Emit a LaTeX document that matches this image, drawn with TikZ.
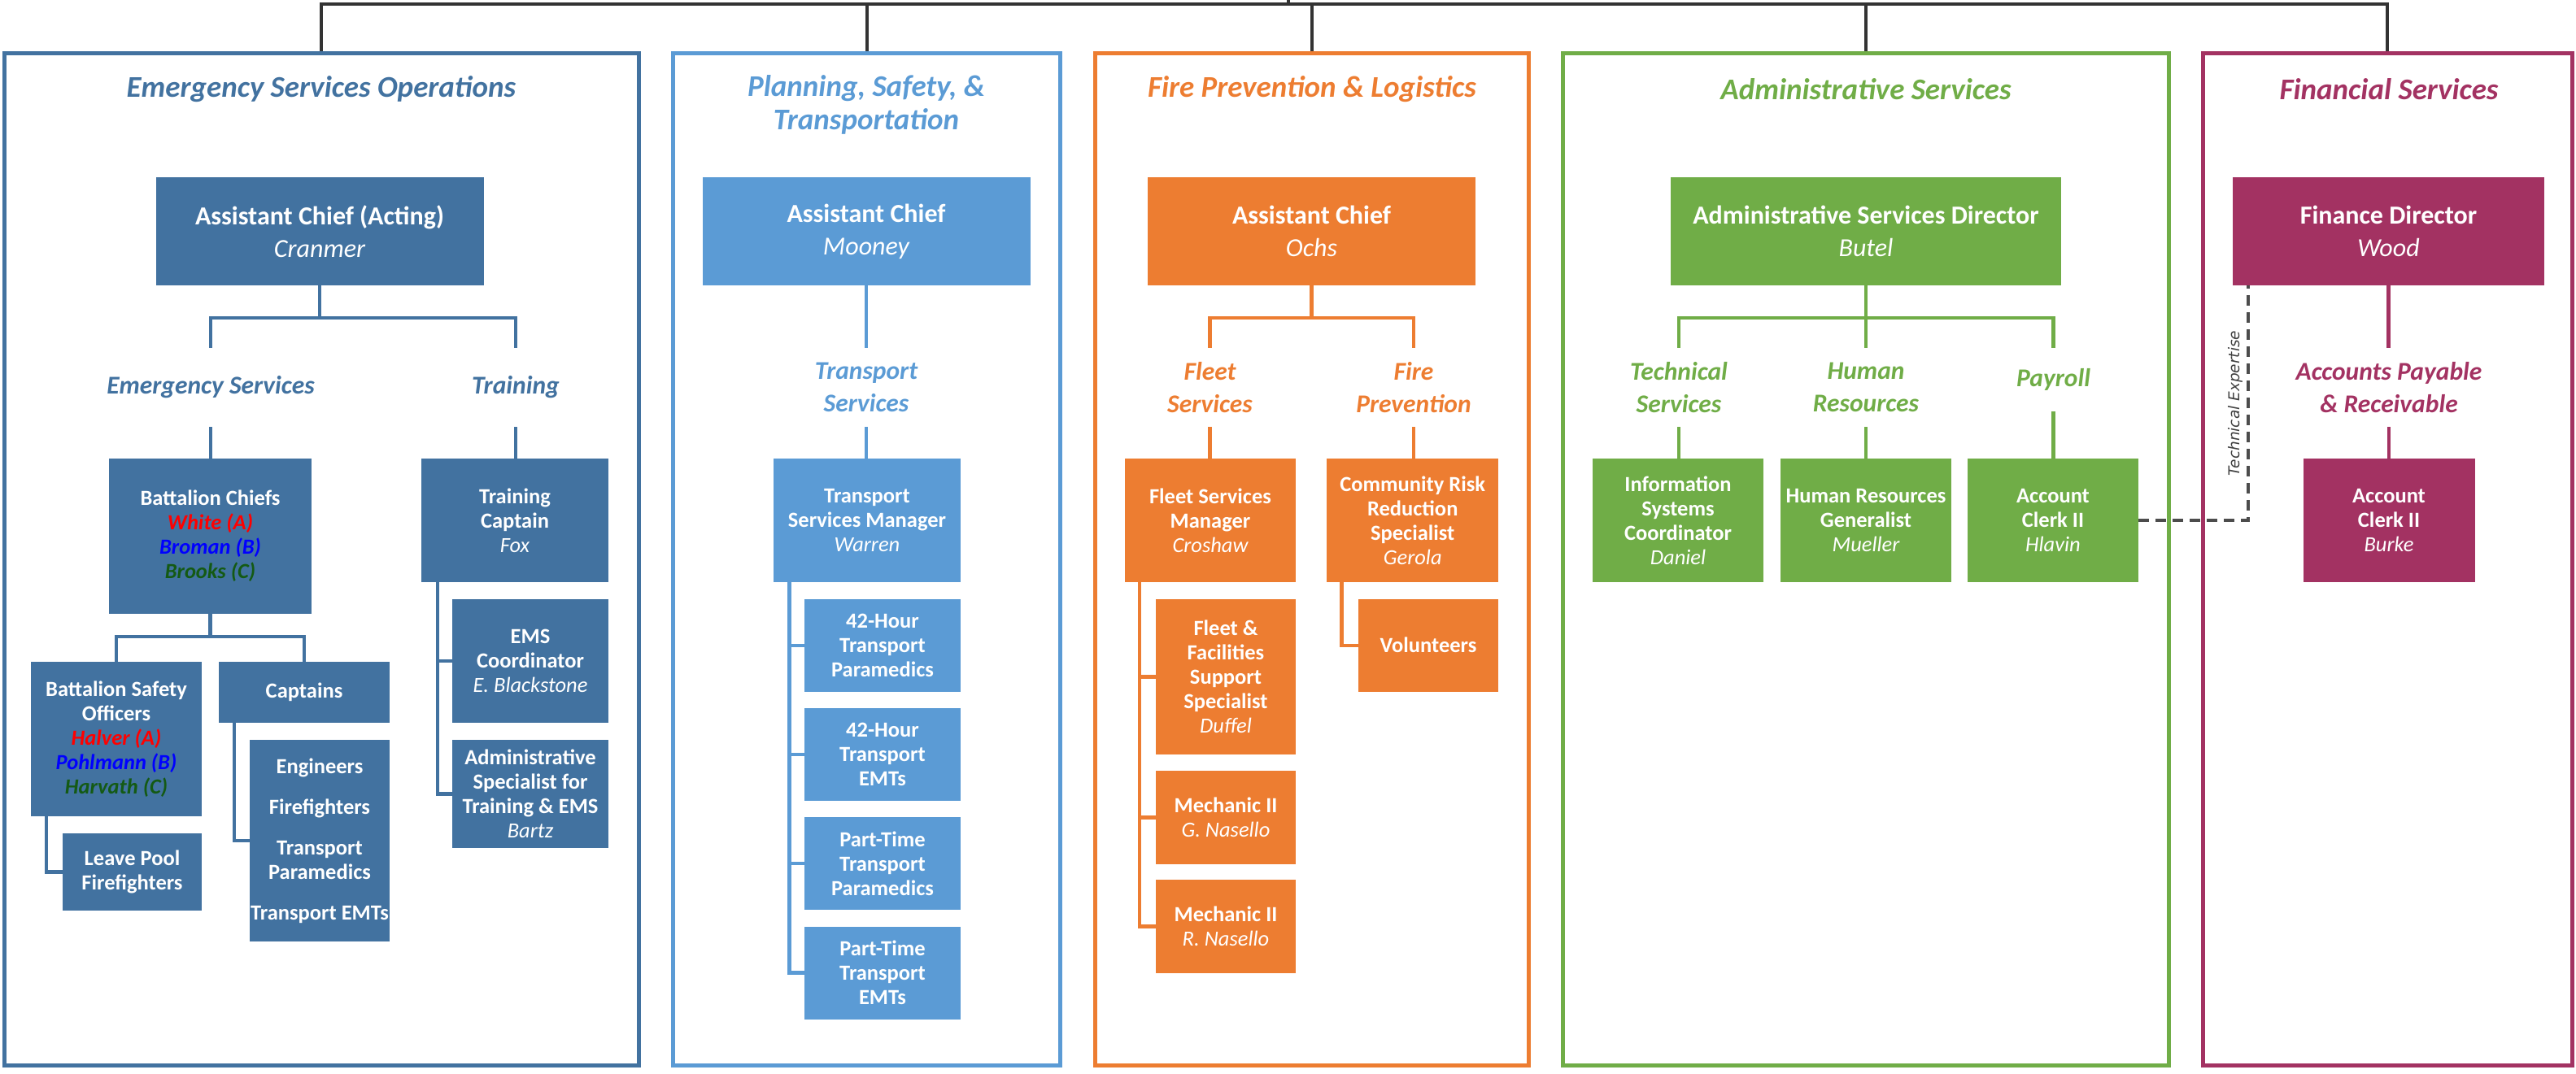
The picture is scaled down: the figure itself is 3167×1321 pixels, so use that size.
\documentclass[tikz,border=0pt]{standalone}
\usepackage{fontspec}
\setmainfont{Carlito}
\newfontfamily\notefam{DejaVu Sans}
\usepackage{tikz}

\definecolor{esoblue}{RGB}{66,114,160}
\definecolor{pstblue}{RGB}{91,155,213}
\definecolor{fplorange}{RGB}{237,125,49}
\definecolor{asdgreen}{RGB}{112,173,71}
\definecolor{fsplum}{RGB}{163,50,98}
\definecolor{shiftA}{RGB}{255,0,0}
\definecolor{shiftB}{RGB}{0,0,255}
\definecolor{shiftC}{RGB}{20,90,20}

\newcommand{\fHead}{\fontsize{37}{41.5}\selectfont\bfseries\itshape}
\newcommand{\fUnit}{\fontsize{31.5}{40}\selectfont\bfseries\itshape}
\newcommand{\fChief}{\fontsize{32}{40}\selectfont\bfseries}
\newcommand{\fPost}{\fontsize{26.5}{30}\selectfont\bfseries}
\newcommand{\fNote}{\notefam\itshape\fontsize{18.5}{20}\selectfont}
\newcommand{\person}[1]{{\mdseries\itshape #1}}

\begin{document}
\begin{tikzpicture}[x=1pt, y=-1pt,
  panel/.style={draw=#1, line width=5pt, inner sep=0pt, minimum height=1244.5pt},
  head/.style={text=#1, font=\fHead, align=center},
  unit/.style={text=#1, font=\fUnit, align=center, inner sep=0pt, minimum height=97pt},
  chief/.style={fill=#1, text=white, font=\fChief, align=center, inner sep=0pt, minimum height=133pt},
  post/.style={fill=#1, text=white, font=\fPost, align=center, inner sep=0pt},
  link/.style={draw=#1, line width=4.5pt},
  topline/.style={draw=black!80, line width=4pt},
  expertise/.style={draw=black!70, line width=4pt, dash pattern=on 13pt off 8pt}]
\useasboundingbox (0,0) rectangle (3167,1321);

% divisions
\node[panel=esoblue, minimum width=780pt] (eso) at (395,687.75) {};
\node[panel=pstblue, minimum width=476pt] (pst) at (1065.5,687.75) {};
\node[panel=fplorange, minimum width=533pt] (fpl) at (1613,687.75) {};
\node[panel=asdgreen, minimum width=745.5pt] (asd) at (2293.75,687.75) {};
\node[panel=fsplum, minimum width=453.5pt] (fs) at (2935.25,687.75) {};

\node[head=esoblue] (esot) at (395,110) {Emergency Services Operations};
\node[head=pstblue] (pstt) at (1065,129) {Planning, Safety, \&\\Transportation};
\node[head=fplorange] (fplt) at (1613,110) {Fire Prevention \& Logistics};
\node[head=asdgreen] (asdt) at (2294,110) {Administrative Services};
\node[head=fsplum] (fst) at (2937,110) {Financial Services};

\coordinate (bar) at (1584,5);
\coordinate (barup) at (1584,0);
\draw[topline] (bar) -- (barup);
\draw[topline] (eso.north) |- (bar) -| (fs.north);
\draw[topline] (pst.north) -- (pst.north |- bar);
\draw[topline] (fpl.north) -- (fpl.north |- bar);
\draw[topline] (asd.north) -- (asd.north |- bar);

% heads
\node[chief=esoblue, minimum width=403pt] (acA) at (393,284.5) {Assistant Chief (Acting)\\\person{Cranmer}};
\node[chief=pstblue, minimum width=403pt] (acM) at (1065,284.5) {Assistant Chief\\\person{Mooney}};
\node[chief=fplorange, minimum width=403pt] (acO) at (1612.5,284.5) {Assistant Chief\\\person{Ochs}};
\node[chief=asdgreen, minimum width=480pt] (dir) at (2294,284.5) {Administrative Services Director\\\person{Butel}};
\node[chief=fsplum, minimum width=383pt] (fd) at (2936.5,284.5) {Finance Director\\\person{Wood}};

\node[unit=esoblue] (es) at (259,476.5) {Emergency Services};
\node[unit=esoblue] (trn) at (634,476.5) {Training};
\node[unit=pstblue] (ts) at (1065,476.5) {Transport\\Services};
\node[unit=fplorange] (fls) at (1487.5,476.5) {Fleet\\Services};
\node[unit=fplorange] (fpv) at (1738,476.5) {Fire\\Prevention};
\node[unit=asdgreen] (tsv) at (2064,476.5) {Technical\\Services};
\node[unit=asdgreen] (hr) at (2294,476.5) {Human\\Resources};
\node[unit=asdgreen, minimum height=78pt] (pay) at (2524.5,467) {Payroll};
\node[unit=fsplum] (apr) at (2937,476.5) {Accounts Payable\\\& Receivable};

% emergency services operations
\node[post=esoblue, minimum width=249pt, minimum height=191pt] (bc) at (258.5,659.5) {Battalion Chiefs\\{\itshape\color{shiftA}White (A)}\\{\itshape\color{shiftB}Broman (B)}\\{\itshape\color{shiftC}Brooks (C)}};
\node[post=esoblue, minimum width=230pt, minimum height=152pt] (tc) at (633,640) {Training\\Captain\\\person{Fox}};
\node[post=esoblue, minimum width=210pt, minimum height=190pt] (bso) at (143,909) {Battalion Safety\\Officers\\{\itshape\color{shiftA}Halver (A)}\\{\itshape\color{shiftB}Pohlmann (B)}\\{\itshape\color{shiftC}Harvath (C)}};
\node[post=esoblue, minimum width=210pt, minimum height=75pt] (cap) at (374,851.5) {Captains};
\node[post=esoblue, minimum width=171pt, minimum height=95pt] (lpf) at (162.5,1072.5) {Leave Pool\\Firefighters};
\node[post=esoblue, minimum width=172pt, minimum height=248pt] (crew) at (393,1034) {Engineers\\[20pt]Firefighters\\[20pt]Transport\\Paramedics\\[20pt]Transport EMTs};
\node[post=esoblue, minimum width=192pt, minimum height=152pt] (ems) at (652,813) {EMS\\Coordinator\\\person{E. Blackstone}};
\node[post=esoblue, minimum width=192pt, minimum height=133pt] (ast) at (652,976.5) {Administrative\\Specialist for\\Training \& EMS\\\person{Bartz}};

\draw[link=esoblue] (acA.south) -- ++(0,40) -| (es.north);
\draw[link=esoblue] (acA.south) -- ++(0,40) -| (trn.north);
\draw[link=esoblue] (es.south) -- (es.south |- bc.north);
\draw[link=esoblue] (trn.south) -- (trn.south |- tc.north);
\draw[link=esoblue] (bc.south) -- ++(0,28) -| (bso.north);
\draw[link=esoblue] (bc.south) -- ++(0,28) -| (cap.north);
\draw[link=esoblue] ([xshift=19pt]bso.south west) |- (lpf.west);
\draw[link=esoblue] ([xshift=19pt]cap.south west) |- (crew.west);
\draw[link=esoblue] ([xshift=20pt]tc.south west) |- (ems.west);
\draw[link=esoblue] ([xshift=20pt]tc.south west) |- (ast.west);

% planning, safety and transportation
\node[post=pstblue, minimum width=230pt, minimum height=152pt] (tsm) at (1066,640) {Transport\\Services Manager\\\person{Warren}};
\node[post=pstblue, minimum width=192pt, minimum height=114pt] (hp) at (1085,794) {42-Hour\\Transport\\Paramedics};
\node[post=pstblue, minimum width=192pt, minimum height=114pt] (he) at (1085,928) {42-Hour\\Transport\\EMTs};
\node[post=pstblue, minimum width=192pt, minimum height=114pt] (pp) at (1085,1062) {Part-Time\\Transport\\Paramedics};
\node[post=pstblue, minimum width=192pt, minimum height=114pt] (pe) at (1085,1196.5) {Part-Time\\Transport\\EMTs};

\draw[link=pstblue] (acM.south) -- (acM.south |- ts.north);
\draw[link=pstblue] (ts.south) -- (ts.south |- tsm.north);
\draw[link=pstblue] ([xshift=19.5pt]tsm.south west) |- (hp.west);
\draw[link=pstblue] ([xshift=19.5pt]tsm.south west) |- (he.west);
\draw[link=pstblue] ([xshift=19.5pt]tsm.south west) |- (pp.west);
\draw[link=pstblue] ([xshift=19.5pt]tsm.south west) |- (pe.west);

% fire prevention and logistics
\node[post=fplorange, minimum width=210pt, minimum height=152pt] (fsm) at (1488,640) {Fleet Services\\Manager\\\person{Croshaw}};
\node[post=fplorange, minimum width=211pt, minimum height=152pt] (crr) at (1736.75,640) {Community Risk\\Reduction\\Specialist\\\person{Gerola}};
\node[post=fplorange, minimum width=172pt, minimum height=191pt] (ffs) at (1507,832.5) {Fleet \&\\Facilities\\Support\\Specialist\\\person{Duffel}};
\node[post=fplorange, minimum width=172pt, minimum height=115pt] (mg) at (1507,1005.3) {Mechanic II\\\person{G. Nasello}};
\node[post=fplorange, minimum width=172pt, minimum height=115pt] (mr) at (1507,1139.5) {Mechanic II\\\person{R. Nasello}};
\node[post=fplorange, minimum width=172pt, minimum height=114pt] (vol) at (1756,793.75) {Volunteers};

\draw[link=fplorange] (acO.south) -- ++(0,40) -| (fls.north);
\draw[link=fplorange] (acO.south) -- ++(0,40) -| (fpv.north);
\draw[link=fplorange] (fls.south) -- (fls.south |- fsm.north);
\draw[link=fplorange] (fpv.south) -- (fpv.south |- crr.north);
\draw[link=fplorange] ([xshift=18pt]fsm.south west) |- (ffs.west);
\draw[link=fplorange] ([xshift=18pt]fsm.south west) |- (mg.west);
\draw[link=fplorange] ([xshift=18pt]fsm.south west) |- (mr.west);
\draw[link=fplorange] ([xshift=18.5pt]crr.south west) |- (vol.west);

% administrative services
\node[post=asdgreen, minimum width=210pt, minimum height=152pt] (isc) at (2063,640) {Information\\Systems\\Coordinator\\\person{Daniel}};
\node[post=asdgreen, minimum width=210pt, minimum height=152pt] (hrg) at (2294,640) {Human Resources\\Generalist\\\person{Mueller}};
\node[post=asdgreen, minimum width=210pt, minimum height=152pt] (acc) at (2524,640) {Account\\Clerk II\\\person{Hlavin}};

\draw[link=asdgreen] (dir.south) -- ++(0,40) -| (tsv.north);
\draw[link=asdgreen] (dir.south) -- (dir.south |- hr.north);
\draw[link=asdgreen] (dir.south) -- ++(0,40) -| (pay.north);
\draw[link=asdgreen] (tsv.south) -- (tsv.south |- isc.north);
\draw[link=asdgreen] (hr.south) -- (hr.south |- hrg.north);
\draw[link=asdgreen] (pay.south) -- (pay.south |- acc.north);

% financial services
\node[post=fsplum, minimum width=211pt, minimum height=152pt] (acb) at (2937,640) {Account\\Clerk II\\\person{Burke}};

\draw[link=fsplum] (fd.south) -- (fd.south |- apr.north);
\draw[link=fsplum] (apr.south) -- (apr.south |- acb.north);

\draw[expertise] (acc.east) -| ([xshift=19pt]fd.south west);
\node[rotate=90, font=\fNote, text=black!75] (tex) at (2748,496) {Technical Expertise};
\end{tikzpicture}
\end{document}
